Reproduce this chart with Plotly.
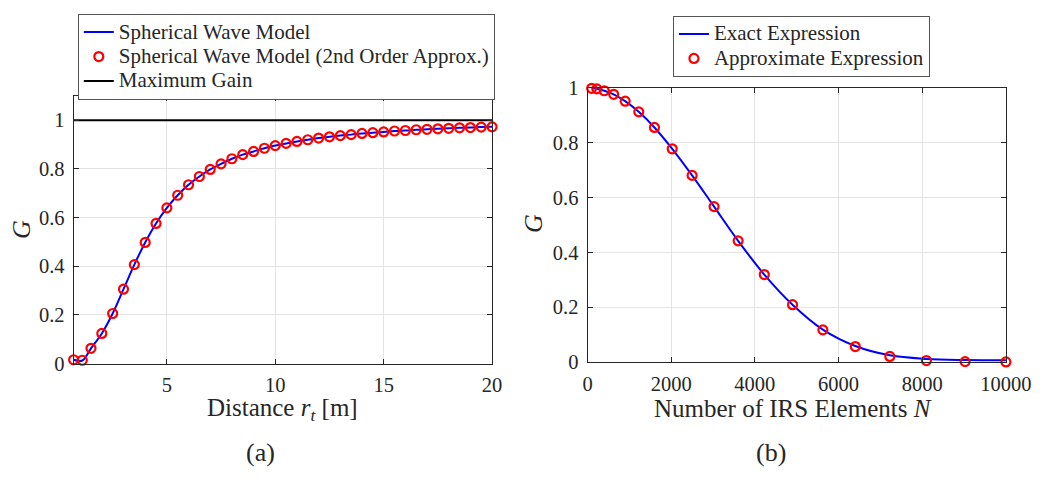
import plotly.graph_objects as go

# ---------------- data: panel (a) ----------------
distance_a = [0.7, 1.1, 1.5, 2.0, 2.5, 3.0, 3.5, 4.0, 4.5, 5.0,
              5.5, 6.0, 6.5, 7.0, 7.5, 8.0, 8.5, 9.0, 9.5, 10.0,
              10.5, 11.0, 11.5, 12.0, 12.5, 13.0, 13.5, 14.0, 14.5, 15.0,
              15.5, 16.0, 16.5, 17.0, 17.5, 18.0, 18.5, 19.0, 19.5, 20.0]
G_exact_a = [0.016, 0.013, 0.063, 0.124, 0.206, 0.306, 0.407, 0.498, 0.576, 0.640,
             0.692, 0.735, 0.769, 0.798, 0.821, 0.842, 0.859, 0.872, 0.885, 0.896,
             0.905, 0.913, 0.920, 0.927, 0.932, 0.937, 0.941, 0.946, 0.949, 0.952,
             0.956, 0.958, 0.961, 0.963, 0.965, 0.967, 0.969, 0.970, 0.972, 0.973]
G_approx_a = [0.016, 0.014, 0.063, 0.124, 0.206, 0.306, 0.407, 0.498, 0.576, 0.640,
              0.692, 0.735, 0.769, 0.798, 0.821, 0.842, 0.859, 0.872, 0.885, 0.896,
              0.905, 0.913, 0.920, 0.927, 0.932, 0.937, 0.941, 0.946, 0.949, 0.952,
              0.956, 0.958, 0.961, 0.963, 0.965, 0.967, 0.969, 0.970, 0.972, 0.973]
maxgain_x = [0.7, 20.0]
maxgain_y = [1.0, 1.0]
xticks_a = [5, 10, 15, 20]
yticks = [0, 0.2, 0.4, 0.6, 0.8, 1]
yticklabels = ["0", "0.2", "0.4", "0.6", "0.8", "1"]
legend_a = ["Spherical Wave Model", "Spherical Wave Model (2nd Order Approx.)", "Maximum Gain"]

# ---------------- data: panel (b) ----------------
N_b = [100, 225, 400, 625, 900, 1225, 1600, 2025, 2500, 3025,
       3600, 4225, 4900, 5625, 6400, 7225, 8100, 9025, 10000]
G_exact_b = [0.999, 0.997, 0.990, 0.977, 0.952, 0.913, 0.856, 0.778, 0.681, 0.567,
             0.442, 0.319, 0.209, 0.118, 0.058, 0.024, 0.011, 0.007, 0.006]
G_approx_b = [0.999, 0.997, 0.990, 0.977, 0.952, 0.913, 0.856, 0.778, 0.681, 0.567,
              0.442, 0.319, 0.209, 0.117, 0.056, 0.020, 0.005, 0.001, 0.000]
xticks_b = [0, 2000, 4000, 6000, 8000, 10000]
xticklabels_b = ["0", "2000", "4000", "6000", "8000", "10000"]
legend_b = ["Exact Expression", "Approximate Expression"]

FONT = "Liberation Serif"
TXT = "#262626"
W, H = 1063, 482


def big(s):
    return '<span style="font-size:21px">' + s + '</span>'


fig = go.Figure()

marker_style = dict(symbol="circle-open", size=9, color="#ff0000", line=dict(width=2.2, color="#ff0000"))

# panel (a)
fig.add_trace(go.Scatter(x=distance_a, y=G_exact_a, mode="lines",
                         line=dict(color="#0000ff", width=2, shape="spline"),
                         name=big(legend_a[0]), xaxis="x", yaxis="y", legend="legend"))
fig.add_trace(go.Scatter(x=distance_a, y=G_approx_a, mode="markers", marker=marker_style, cliponaxis=False,
                         name=big(legend_a[1]), xaxis="x", yaxis="y", legend="legend"))
fig.add_trace(go.Scatter(x=maxgain_x, y=maxgain_y, mode="lines", line=dict(color="#000000", width=2),
                         name=big(legend_a[2]), xaxis="x", yaxis="y", legend="legend"))

# panel (b)
fig.add_trace(go.Scatter(x=N_b, y=G_exact_b, mode="lines",
                         line=dict(color="#0000ff", width=2, shape="spline"),
                         name=big(legend_b[0]), xaxis="x2", yaxis="y2", legend="legend2"))
fig.add_trace(go.Scatter(x=N_b, y=G_approx_b, mode="markers", marker=marker_style, cliponaxis=False,
                         name=big(legend_b[1]), xaxis="x2", yaxis="y2", legend="legend2"))

axis_common = dict(showline=True, linecolor=TXT, linewidth=1, mirror="ticks", ticks="inside", ticklen=5,
                   tickcolor=TXT, showgrid=True, gridcolor="#e4e4e4", gridwidth=1, zeroline=False,
                   tickfont=dict(family=FONT, size=20.5, color=TXT))


def px_x(p):
    return p / W


def px_y(p):
    return (H - p) / H


legend_common = dict(xanchor="left", yanchor="top", bgcolor="white", bordercolor="#555555", borderwidth=1,
                     font=dict(family=FONT, size=16.5, color=TXT), tracegroupgap=0, itemwidth=30)

fig.update_layout(
    width=W, height=H, margin=dict(l=0, r=0, t=0, b=0),
    paper_bgcolor="white", plot_bgcolor="white",
    font=dict(family=FONT, size=20, color=TXT),
    xaxis=dict(domain=[px_x(70.7), px_x(501.7)], range=[0.7, 20], tickvals=xticks_a, anchor="y",
               ticklabelstandoff=3, **axis_common),
    yaxis=dict(domain=[px_y(369.5), px_y(89)], range=[0, 1.1], tickvals=yticks, ticktext=yticklabels,
               anchor="x", ticklabelstandoff=4, **axis_common),
    xaxis2=dict(domain=[px_x(600), px_x(1031)], range=[0, 10000], tickvals=xticks_b, ticktext=xticklabels_b,
                anchor="y2", ticklabelstandoff=3, **axis_common),
    yaxis2=dict(domain=[px_y(367.7), px_y(80.7)], range=[0, 1], tickvals=yticks, ticktext=yticklabels,
                anchor="x2", ticklabelstandoff=4, **axis_common),
    legend=dict(x=px_x(75), y=px_y(3), **legend_common),
    legend2=dict(x=px_x(688), y=px_y(5), **legend_common),
    showlegend=True,
)

annos = [
    ("<i>G</i>", 17, 229, -90, 26),
    ("<i>G</i>", 545, 223, -90, 26),
    ("Distance <i>r</i><sub><i>t</i></sub> [m]", 286, 418, 0, 25),
    ("Number of IRS Elements <i>N</i>", 812, 417, 0, 25),
    ("(a)", 263, 463, 0, 26),
    ("(b)", 789, 463, 0, 26),
]
for text, xp, yp, ang, fs in annos:
    fig.add_annotation(xref="paper", yref="paper", xanchor="center", yanchor="middle", showarrow=False,
                       font=dict(family=FONT, color=TXT, size=fs),
                       text=text, x=px_x(xp), y=px_y(yp), textangle=ang)

fig.write_html("out.html")
